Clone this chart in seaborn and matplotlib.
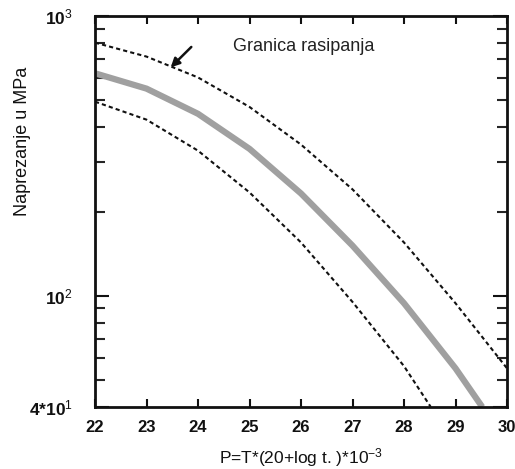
import matplotlib
matplotlib.use("Agg")
import matplotlib.pyplot as plt
import matplotlib.ticker as mticker
import seaborn as sns
import pandas as pd
import numpy as np

# ---- data ----
p_upper = [22, 23, 24, 25, 26, 27, 28, 29, 30]
s_upper = [803, 716, 603, 473, 347, 240, 155, 94, 55]

p_mid = [22, 23, 24, 25, 26, 27, 28, 29, 29.52]
s_mid = [624, 550, 447, 335, 232, 151, 94, 55, 40]

p_lower = [22, 23, 24, 25, 26, 27, 28, 28.52]
s_lower = [494, 426, 330, 234, 155, 95, 56, 40]

x_ticks = [22, 23, 24, 25, 26, 27, 28, 29, 30]
y_ticks = [40, 100, 1000]
y_tick_labels = [r'$\mathbf{4{*}10}^{1}$', r'$\mathbf{10}^{2}$', r'$\mathbf{10}^{3}$']

annot_text = "Granica rasipanja"
arrow_head = (23.47, 655)
arrow_tail = (23.87, 775)

sns.set_style("ticks")
plt.rcParams['font.family'] = ['Liberation Sans', 'DejaVu Sans']
plt.rcParams['mathtext.fontset'] = 'custom'
plt.rcParams['mathtext.rm'] = 'Liberation Sans'
plt.rcParams['mathtext.bf'] = 'Liberation Sans:bold'
plt.rcParams['mathtext.it'] = 'Liberation Sans:italic'

fig = plt.figure(figsize=(5.15, 4.69), dpi=100)
ax = fig.add_axes([95/515, 1-407/469, 412/515, 391/469])

df_u = pd.DataFrame({"P": p_upper, "S": s_upper})
df_m = pd.DataFrame({"P": p_mid, "S": s_mid})
df_l = pd.DataFrame({"P": p_lower, "S": s_lower})

sns.lineplot(data=df_m, x="P", y="S", ax=ax, color="#a0a0a0", lw=4.5,
             solid_capstyle="butt", solid_joinstyle="round")
sns.lineplot(data=df_u, x="P", y="S", ax=ax, color="#111111", lw=1.5, linestyle=(0, (2.0, 1.5)))
sns.lineplot(data=df_l, x="P", y="S", ax=ax, color="#111111", lw=1.5, linestyle=(0, (2.0, 1.5)))

ax.set_yscale("log")
ax.set_xlim(22, 30)
ax.set_ylim(40, 1000)

ax.set_xticks(x_ticks)
ax.set_xticklabels([str(v) for v in x_ticks], fontweight="bold", fontsize=12)
ax.yaxis.set_major_locator(mticker.FixedLocator(y_ticks))
ax.yaxis.set_major_formatter(mticker.FixedFormatter(y_tick_labels))
ax.yaxis.set_minor_locator(mticker.LogLocator(base=10, subs=np.arange(2, 10)))
ax.yaxis.set_minor_formatter(mticker.NullFormatter())
ax.xaxis.set_minor_locator(mticker.NullLocator())

ax.tick_params(axis="x", which="major", direction="in", length=6, width=1.5,
               top=True, bottom=True, pad=9, colors="#111111")
ax.tick_params(axis="y", which="major", direction="in", length=10, width=1.5,
               left=True, right=True, pad=16, labelsize=12.5, colors="#111111")
ax.tick_params(axis="y", which="minor", direction="in", length=7, width=1.5,
               left=True, right=True)

for sp in ax.spines.values():
    sp.set_visible(True)
    sp.set_linewidth(2)
    sp.set_color("#111111")

ax.set_xlabel(r'P=T*(20+log t. )*10$^{-3}$', fontsize=12.5, labelpad=8, color="#111111")
ax.set_ylabel("Naprezanje u MPa", fontsize=13, color="#111111")
ax.yaxis.set_label_coords(-0.155, 0.68)

ax.text(0.335, 0.923, annot_text, transform=ax.transAxes, fontsize=13,
        color="#222222", va="center", ha="left")
ax.annotate("", xy=arrow_head, xytext=arrow_tail,
            arrowprops=dict(arrowstyle="-|>", color="#111111", lw=1.8,
                            mutation_scale=13, shrinkA=0, shrinkB=0))

fig.savefig("out.png", dpi=100)
